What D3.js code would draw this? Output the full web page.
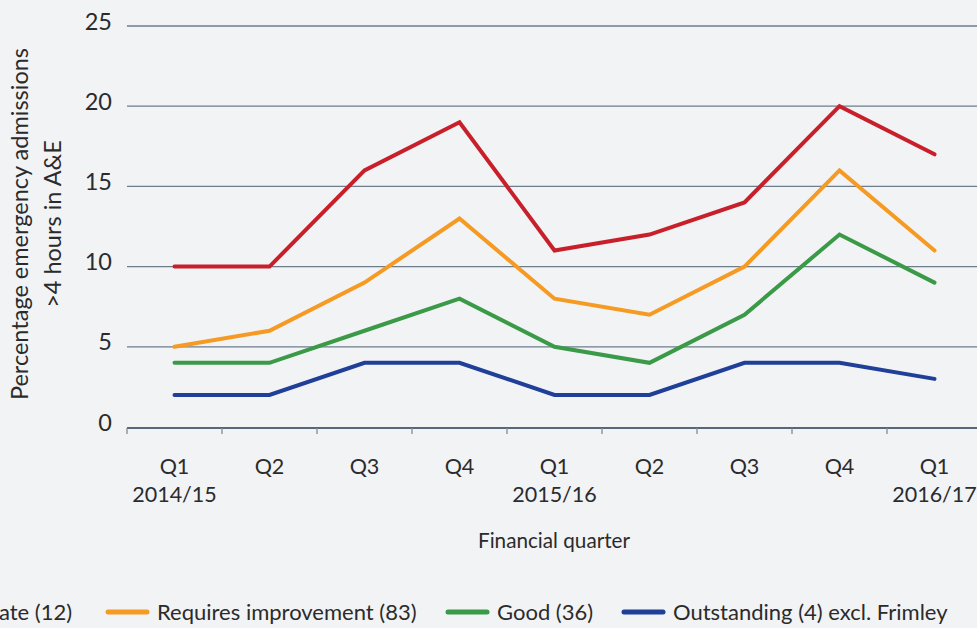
<!DOCTYPE html>
<html><head><meta charset="utf-8">
<script src="https://cdn.jsdelivr.net/npm/d3@7"></script>
<style>
html,body{margin:0;padding:0;background:#f2f3f5;overflow:hidden;}
svg{display:block;}
text{font-family:Lato,"Noto Sans",sans-serif;fill:#2b2b2b;}
</style></head><body>
<svg id="c" width="977" height="628"></svg>
<script>
const quarters = ["Q1","Q2","Q3","Q4","Q1","Q2","Q3","Q4","Q1"];
const years = ["2014/15","","","","2015/16","","","","2016/17"];
const inadequate = [10,10,16,19,11,12,14,20,17];
const requiresImprovement = [5,6,9,13,8,7,10,16,11];
const good = [4,4,6,8,5,4,7,12,9];
const outstanding = [2,2,4,4,2,2,4,4,3];
const yTicks = [0,5,10,15,20,25];
const seriesNames = ["Inadequate (12)","Requires improvement (83)","Good (36)","Outstanding (4) excl. Frimley"];
const seriesColors = ["#c8202a","#f59a23","#3a9a47","#1f3f98"];
const seriesData = [inadequate, requiresImprovement, good, outstanding];

const svg = d3.select("#c");
const idx = d3.range(quarters.length);
const x = d3.scaleBand().domain(idx).range([127, 127 + 95*9]).padding(0);
const y = d3.scaleLinear().domain([0,25]).range([427,26]);

// gridlines
svg.append("g").selectAll("line").data(yTicks.filter(d=>d>0)).join("line")
  .attr("x1",127).attr("x2",977).attr("y1",d=>y(d)).attr("y2",d=>y(d))
  .attr("stroke","#6d7d8c").attr("stroke-width",1.3);

// y labels
svg.append("g").selectAll("text").data(yTicks).join("text")
  .attr("x",112).attr("y",d=>y(d)+3.5).attr("text-anchor","end")
  .attr("font-size",23.5).text(d=>d);

// x axis
svg.append("line").attr("x1",127).attr("x2",977).attr("y1",428).attr("y2",428)
  .attr("stroke","#56677a").attr("stroke-width",2);
svg.append("g").selectAll("line").data(d3.range(10)).join("line")
  .attr("x1",d=>127+d*x.bandwidth()).attr("x2",d=>127+d*x.bandwidth())
  .attr("y1",428).attr("y2",434).attr("stroke","#7d8c99").attr("stroke-width",1.3);

svg.append("g").selectAll("text").data(idx).join("text")
  .attr("x",d=>x(d)+x.bandwidth()/2).attr("y",474).attr("text-anchor","middle")
  .attr("font-size",21.5).text(d=>quarters[d]);
svg.append("g").selectAll("text").data(idx).join("text")
  .attr("x",d=>x(d)+x.bandwidth()/2).attr("y",502).attr("text-anchor","middle")
  .attr("font-size",21.5).text(d=>years[d]);

svg.append("text").attr("x",554).attr("y",548).attr("text-anchor","middle")
  .attr("font-size",20.7).text("Financial quarter");

// y title
const yt = svg.append("text").attr("transform","translate(0,224) rotate(-90)")
  .attr("text-anchor","middle").attr("font-size",23.5);
yt.append("tspan").attr("x",0).attr("y",28).text("Percentage emergency admissions");
yt.append("tspan").attr("x",0).attr("y",61).text(">4 hours in A&E");

// lines
const line = d3.line().x((d,i)=>x(i)+x.bandwidth()/2).y(d=>y(d));
svg.append("g").selectAll("path").data(seriesData).join("path")
  .attr("d",d=>line(d)).attr("fill","none")
  .attr("stroke",(d,i)=>seriesColors[i]).attr("stroke-width",4)
  .attr("stroke-linejoin","miter").attr("stroke-linecap","round");

// legend
const legendTextX = [null,157,497,673];
const lg = svg.append("g");
seriesNames.forEach((name,i)=>{
  const t = lg.append("text").attr("y",620).attr("font-size",22).text(name);
  let tx;
  if(i===0){
    tx = -1 - t.node().getSubStringLength(0,7);
  } else tx = legendTextX[i];
  t.attr("x",tx);
  lg.append("line").attr("x1",tx-49).attr("x2",tx-10).attr("y1",612).attr("y2",612)
    .attr("stroke",seriesColors[i]).attr("stroke-width",5).attr("stroke-linecap","round");
});
</script></body></html>
